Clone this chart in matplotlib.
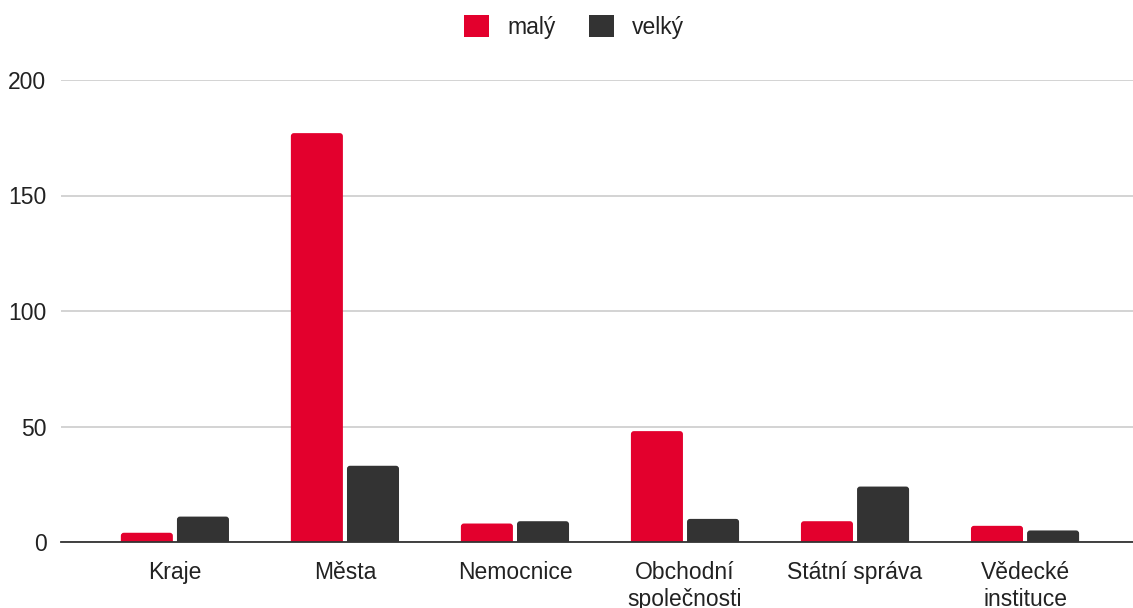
import matplotlib
matplotlib.use("Agg")
import matplotlib.pyplot as plt
from matplotlib.patches import FancyBboxPatch, Patch
import numpy as np

categories = ["Kraje", "Města", "Nemocnice", "Obchodní\nspolečnosti", "Státní správa", "Vědecké\ninstituce"]
maly = [4, 177, 8, 48, 9, 7]
velky = [11, 33, 9, 10, 24, 5]
series_names = ["malý", "velký"]
colors = ["#E3002D", "#333333"]
yticks = [0, 50, 100, 150, 200]

plt.rcParams['font.family'] = ['Liberation Sans', 'DejaVu Sans']

fig = plt.figure(figsize=(11.33, 6.08), dpi=100)
ax = fig.add_axes([61/1133, (608-542)/608, (1133-61)/1133, (542-80)/608])

x = np.arange(len(categories))
w = 0.306
gap = 0.012
bars1 = ax.bar(x - w/2 - gap, maly, width=w, color=colors[0], label=series_names[0], zorder=3)
bars2 = ax.bar(x + w/2 + gap, velky, width=w, color=colors[1], label=series_names[1], zorder=3)

ax.set_xlim(-0.67, 5.635)
ax.set_ylim(0, 200)

# rounded top corners: replace rectangles by rounded boxes extending below the axis (clipped)
rx = 3 / 170.0
ry = 3 / 2.31
for bars, col in ((bars1, colors[0]), (bars2, colors[1])):
    for b in bars:
        bx, by, bw, bh = b.get_x(), b.get_y(), b.get_width(), b.get_height()
        b.set_visible(False)
        p = FancyBboxPatch((bx, by - 5), bw, bh + 5,
                           boxstyle=f"round,pad=0,rounding_size={rx}",
                           mutation_aspect=ry / rx, facecolor=col, edgecolor="none",
                           zorder=3, clip_on=True)
        ax.add_patch(p)

ax.set_yticks(yticks)
ax.yaxis.grid(True, color="#cccccc", linewidth=1.2, zorder=0)
ax.set_axisbelow(True)
for s in ["top", "right", "left"]:
    ax.spines[s].set_visible(False)
ax.spines["bottom"].set_color("#333333")
ax.spines["bottom"].set_linewidth(1.3)
ax.spines["bottom"].set_zorder(4)
ax.set_xticks(x)
ax.set_xticklabels(categories, fontsize=16.5, color="#222222", linespacing=1.2, va="top")
ax.tick_params(axis="both", length=0)
ax.tick_params(axis="x", pad=14)
ax.tick_params(axis="y", pad=10.5, labelsize=16.5, labelcolor="#222222")

handles = [Patch(facecolor=c, edgecolor="none") for c in colors]
leg = fig.legend(handles, series_names, loc="center", bbox_to_anchor=(574/1133, 1 - 27/608), ncol=2,
                 frameon=False, fontsize=16.5, handlelength=1.1, handleheight=1.1,
                 columnspacing=1.45, handletextpad=0.8)
for t in leg.get_texts():
    t.set_color("#222222")

fig.savefig("out.png", dpi=100)
